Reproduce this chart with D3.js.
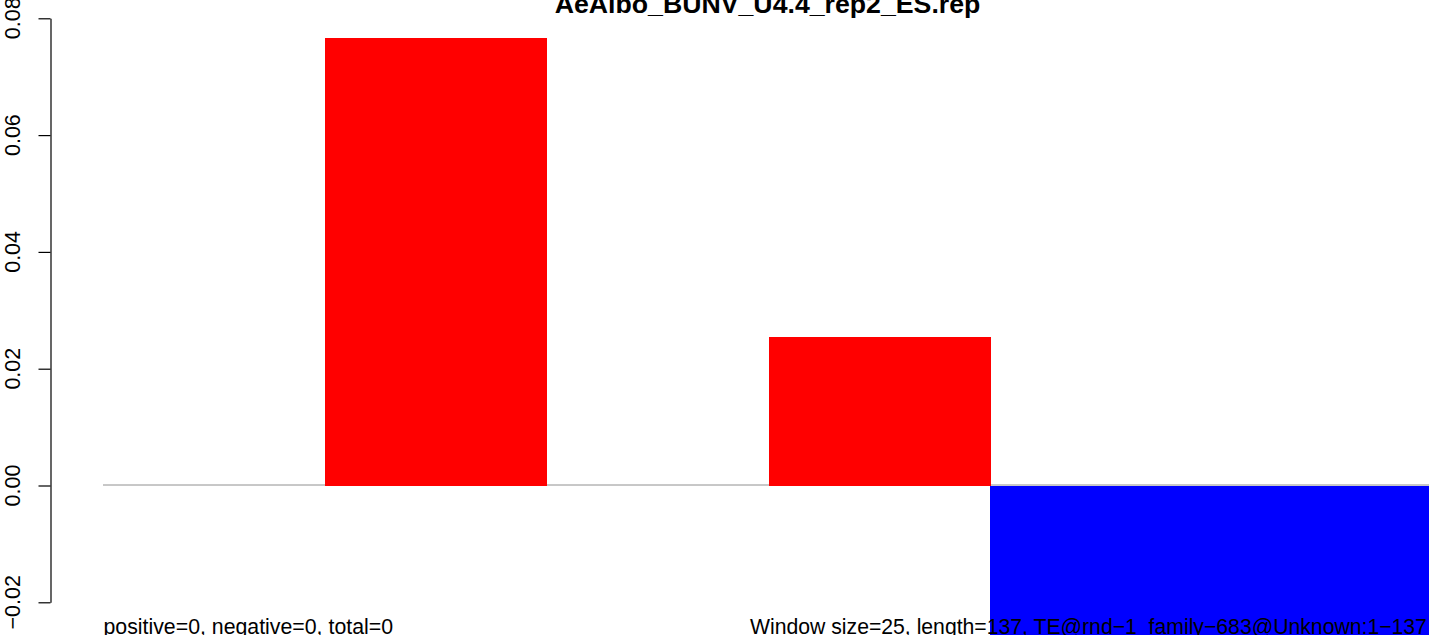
<!DOCTYPE html>
<html>
<head>
<meta charset="utf-8">
<script src="https://cdn.jsdelivr.net/npm/d3@7"></script>
<style>
  html, body { margin: 0; padding: 0; background: #fff; overflow: hidden; }
  svg { display: block; }
  text { font-family: "Liberation Sans", Arial, Helvetica, sans-serif; }
</style>
</head>
<body>
<svg id="chart" width="1429" height="635"></svg>
<script>
// ---- data ----
const title = "AeAlbo_BUNV_U4.4_rep2_ES.rep";
const windows = ["1", "2", "3", "4", "5", "6"];
const values = [0, 0.0767, 0, 0.0255, -0.035, -0.035];
const yTicks = [-0.02, 0.00, 0.02, 0.04, 0.06, 0.08];
const yTickLabels = ["\u22120.02", "0.00", "0.02", "0.04", "0.06", "0.08"];
const leftNote = "positive=0, negative=0, total=0";
const rightNote = "Window size=25, length=137, TE@rnd\u22121_family\u2212683@Unknown:1\u2212137";

// ---- layout ----
const axisX = 50.5;
const svg = d3.select("#chart");

const x = d3.scaleBand().domain(windows).range([103, 1434]).padding(0);
const y = d3.scaleLinear().domain([-0.02, 0.08]).range([602.3, 18.3]);

// zero line (drawn before bars)
svg.append("line")
  .attr("x1", x.range()[0]).attr("x2", x.range()[1])
  .attr("y1", y(0) - 0.5).attr("y2", y(0) - 0.5)
  .attr("stroke", "#909090").attr("stroke-width", 1);

// bars
svg.append("g").selectAll("rect")
  .data(values.map((v, i) => ({ w: windows[i], v })))
  .join("rect")
  .attr("x", d => x(d.w))
  .attr("width", x.bandwidth() + 0.5)
  .attr("y", d => Math.min(y(d.v), y(0)))
  .attr("height", d => Math.abs(y(d.v) - y(0)))
  .attr("shape-rendering", "crispEdges")
  .attr("fill", d => d.v >= 0 ? "#ff0000" : "#0000ff");

// y axis
const axis = d3.axisLeft(y)
  .tickValues(yTicks)
  .tickSize(12)
  .tickSizeOuter(0)
  .tickFormat("");
const gAxis = svg.append("g")
  .attr("transform", `translate(${axisX},0)`)
  .call(axis);
gAxis.selectAll("path, line").attr("stroke", "#000").attr("stroke-width", 1.2);

// rotated tick labels
svg.append("g").selectAll("text")
  .data(yTicks)
  .join("text")
  .attr("transform", (d) => `translate(19.5,${y(d)}) rotate(-90)`)
  .attr("text-anchor", "middle")
  .attr("font-size", 21.5)
  .attr("fill", "#000")
  .text((d, i) => yTickLabels[i]);

// title
svg.append("text")
  .attr("x", 767.5)
  .attr("y", 13)
  .attr("text-anchor", "middle")
  .attr("font-size", 26.7)
  .attr("font-weight", "bold")
  .attr("fill", "#000")
  .text(title);

// bottom notes
svg.append("text")
  .attr("x", 103.5).attr("y", 633.5)
  .attr("font-size", 21.3).attr("fill", "#000")
  .text(leftNote);
svg.append("text")
  .attr("x", 750).attr("y", 633.5)
  .attr("font-size", 21.2).attr("fill", "#000")
  .text(rightNote);
</script>
</body>
</html>
